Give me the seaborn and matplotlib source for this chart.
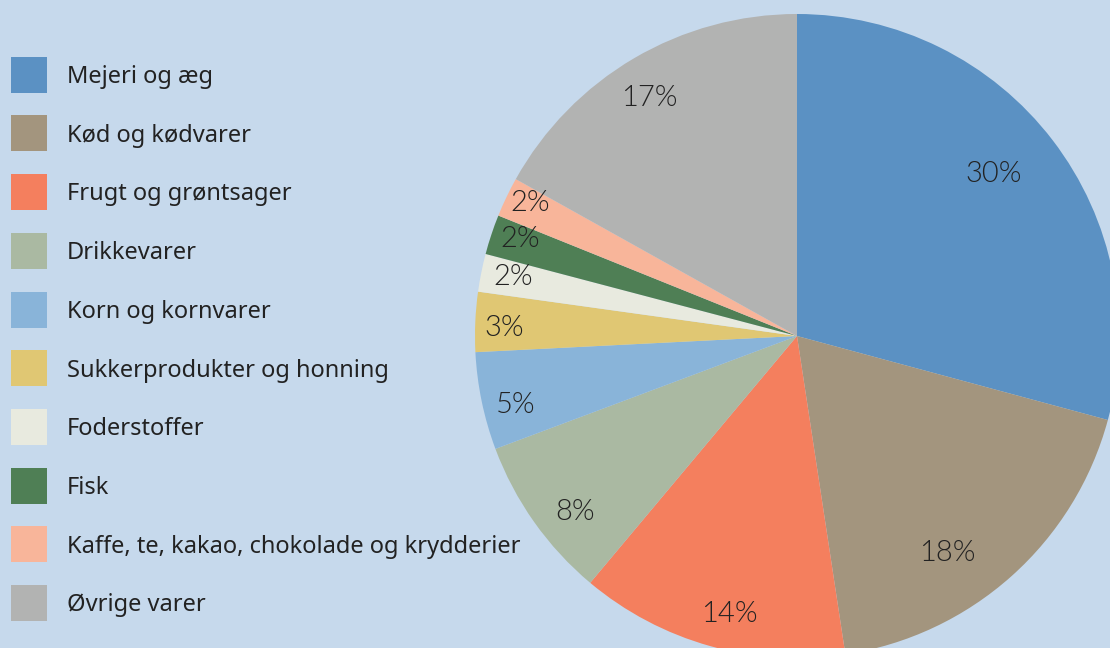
import matplotlib
matplotlib.use("Agg")
import numpy as np
import matplotlib.pyplot as plt
from matplotlib.lines import Line2D
import seaborn as sns

categories = ["Mejeri og æg", "Kød og kødvarer", "Frugt og grøntsager", "Drikkevarer",
              "Korn og kornvarer", "Sukkerprodukter og honning", "Foderstoffer", "Fisk",
              "Kaffe, te, kakao, chokolade og krydderier", "Øvrige varer"]
shares = [29.2, 18.4, 13.5, 8.2, 4.9, 3.0, 1.9, 2.0, 2.0, 16.9]
pct_labels = ["30%", "18%", "14%", "8%", "5%", "3%", "2%", "2%", "2%", "17%"]
colors = ["#5B91C3", "#A3957E", "#F47F5E", "#AAB9A2", "#89B4D9",
          "#E0C773", "#E8EADF", "#4F7F55", "#F8B59A", "#B2B3B2"]

# label placement tweaks (radius as fraction of pie radius, angle shift in degrees)
label_r = [0.79, 0.82, 0.89, 0.88, 0.90, 0.91, 0.90, 0.91, 0.925, 0.87]
label_dtheta = [2, -7, 2, 3, 2, 1, -0.5, -1, -1, 1.5]

bg = "#C6D9EC"
sns.set_theme(style="white", rc={"figure.facecolor": bg, "axes.facecolor": bg})
plt.rcParams["font.family"] = ["Noto Sans", "DejaVu Sans"]

fig = plt.figure(figsize=(11.1, 6.48), dpi=100)
# pie centre ~ (797, 336) px, radius ~ 322 px
W, H, R = 1110, 648, 322
ax = fig.add_axes([(797 - R) / W, (H - 336 - R) / H, 2 * R / W, 2 * R / H])

wedges, _ = ax.pie(shares, colors=colors, startangle=90, counterclock=False,
                   radius=1, wedgeprops={"linewidth": 0})
ax.set_xlim(-1, 1)
ax.set_ylim(-1, 1)
ax.set_aspect("equal")
ax.axis("off")

for w, lab, r, dt in zip(wedges, pct_labels, label_r, label_dtheta):
    th = np.deg2rad((w.theta1 + w.theta2) / 2 + dt)
    ax.text(r * np.cos(th), r * np.sin(th), lab, ha="center", va="center",
            fontsize=21, color="#222222", family=["Lato", "DejaVu Sans"], fontweight=300)

handles = [Line2D([], [], marker="s", linestyle="none", markersize=26.6,
                  markerfacecolor=c, markeredgewidth=0) for c in colors]
fig.legend(handles, categories, loc="upper left", bbox_to_anchor=(10 / W, 1 - 65 / H),
           frameon=False, fontsize=17, handlelength=1.57, handletextpad=0.85,
           labelspacing=1.47, borderpad=0, borderaxespad=0, labelcolor="#222222")

fig.savefig("out.png", dpi=100, facecolor=bg)
